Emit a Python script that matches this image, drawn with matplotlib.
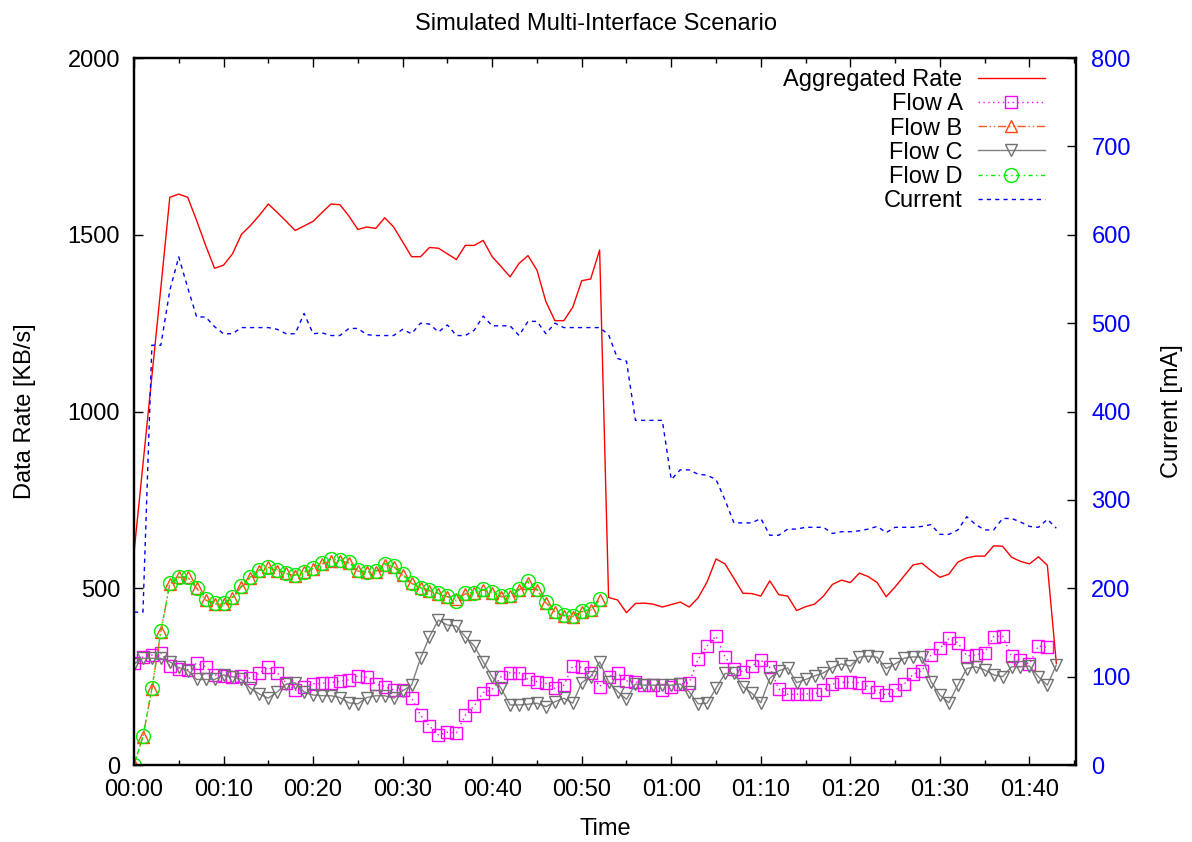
import matplotlib
matplotlib.use("Agg")
import matplotlib.pyplot as plt
from matplotlib.ticker import FuncFormatter, MultipleLocator
import numpy as np

plt.rcParams['font.family'] = ['Liberation Sans', 'DejaVu Sans']
plt.rcParams['font.size'] = 17

# one sample per minute
aggregated = [600, 850, 1100, 1350, 1606, 1615, 1606, 1540, 1470, 1405,
              1414, 1446, 1501, 1526, 1555, 1587, 1563, 1538, 1512, 1525,
              1538, 1563, 1587, 1585, 1553, 1515, 1522, 1518, 1548, 1522,
              1480, 1438, 1438, 1464, 1462, 1446, 1430, 1470, 1470, 1484,
              1438, 1410, 1381, 1419, 1441, 1400, 1311, 1257, 1257, 1295,
              1370, 1375, 1457, 474, 467, 431, 457, 458, 455, 447,
              454, 461, 447, 473, 518, 583, 569, 528, 486, 485,
              478, 521, 482, 478, 437, 448, 455, 478, 511, 523,
              516, 543, 533, 516, 476, 504, 535, 566, 571, 550,
              531, 540, 574, 586, 591, 591, 620, 619, 588, 576,
              569, 589, 565, 288]

flow_a = [288, 306, 311, 318, 280, 272, 270, 288, 278, 255,
          252, 249, 252, 245, 260, 276, 261, 232, 211, 222,
          230, 232, 233, 237, 241, 252, 248, 229, 222, 212,
          212, 190, 141, 110, 85, 93, 91, 141, 168, 205,
          214, 250, 261, 261, 242, 236, 231, 217, 226, 280,
          276, 261, 222, 250, 259, 238, 236, 226, 226, 212,
          222, 229, 233, 299, 337, 365, 306, 273, 264, 280,
          297, 276, 215, 200, 200, 201, 201, 212, 229, 234,
          234, 233, 222, 207, 198, 212, 229, 257, 267, 311,
          330, 358, 346, 309, 311, 318, 363, 365, 308, 297,
          286, 337, 333]

flow_b = [0, 80, 215, 377, 512, 531, 531, 500, 467, 455,
          455, 473, 504, 530, 550, 559, 550, 542, 535, 545,
          554, 569, 578, 578, 572, 549, 545, 547, 566, 561,
          537, 514, 500, 493, 484, 476, 470, 484, 486, 495,
          488, 476, 478, 495, 516, 495, 459, 434, 422, 420,
          434, 438, 467]

flow_c = [286, 302, 302, 302, 292, 276, 267, 242, 242, 242,
          255, 250, 242, 217, 201, 189, 207, 229, 233, 207,
          198, 196, 196, 191, 176, 173, 191, 196, 196, 189,
          210, 226, 302, 363, 410, 396, 393, 363, 337, 292,
          250, 217, 170, 170, 172, 175, 165, 179, 189, 175,
          233, 250, 292, 235, 208, 186, 229, 226, 226, 226,
          226, 229, 207, 173, 175, 217, 259, 259, 222, 203,
          176, 245, 267, 275, 233, 242, 252, 261, 276, 286,
          280, 305, 308, 305, 273, 286, 302, 306, 305, 236,
          198, 176, 226, 273, 278, 269, 255, 250, 278, 278,
          280, 250, 226, 283]

flow_d = [0, 82, 217, 378, 514, 533, 532, 502, 470, 458,
          457, 475, 506, 532, 552, 561, 553, 544, 537, 547,
          557, 572, 582, 580, 575, 551, 547, 549, 570, 563,
          539, 516, 502, 495, 486, 478, 465, 486, 488, 497,
          490, 478, 480, 497, 520, 497, 461, 436, 424, 422,
          436, 440, 469]

current = [173, 173, 475, 475, 537, 575, 540, 507, 507, 496,
           488, 488, 495, 495, 495, 495, 493, 488, 488, 511,
           488, 489, 486, 486, 494, 494, 487, 486, 486, 486,
           493, 488, 500, 499, 490, 498, 486, 486, 492, 508,
           497, 497, 497, 486, 502, 502, 488, 500, 495, 495,
           495, 495, 495, 487, 460, 457, 390, 390, 390, 390,
           323, 334, 334, 329, 328, 323, 300, 274, 274, 274,
           279, 260, 260, 267, 267, 269, 269, 269, 262, 264,
           264, 265, 267, 270, 263, 269, 269, 269, 270, 272,
           261, 261, 266, 281, 272, 266, 266, 279, 279, 275,
           270, 269, 278, 268]

t_agg = np.arange(len(aggregated))
t_a = np.arange(len(flow_a))
t_b = np.arange(len(flow_b))
t_c = np.arange(len(flow_c))
t_cur = np.arange(len(current))

fig = plt.figure(figsize=(11.92, 8.42), dpi=100)
ax = fig.add_axes([0.1124, 0.0914, 0.7903, 0.8397])
ax2 = ax.twinx()

l_agg, = ax.plot(t_agg, aggregated, color='#ff0000', lw=1, label='Aggregated Rate')
l_a, = ax.plot(t_a, flow_a, color='#ff00ff', lw=1, ls=(0, (1, 2.5)),
               marker='s', ms=8, mfc='none', mec='#ff00ff', mew=1,
               label='Flow A')
l_b, = ax.plot(t_b, flow_b, color='#ff5a1e', lw=1, ls=(0, (6, 2, 1, 2, 1, 2)),
               marker='^', ms=8.5, mfc='none', mec='#ff4a10', mew=1,
               label='Flow B')
l_c, = ax.plot(t_c, flow_c, color='#808080', lw=1,
               marker='v', ms=9, mfc='none', mec='#707070', mew=1,
               label='Flow C')
l_d, = ax.plot(t_b, flow_d, color='#00ee00', lw=1, ls=(0, (3, 2.5, 1, 2.5)),
               marker='o', ms=10, mfc='none', mec='#00ee00', mew=1,
               label='Flow D')
l_cur, = ax2.plot(t_cur, current, color='#0000ff', lw=1, ls=(0, (3, 3)),
                  label='Current')

ax.set_xlim(0, 105.2)
ax.set_ylim(0, 2000)
ax2.set_ylim(0, 800)

ax.xaxis.set_major_locator(MultipleLocator(10))
ax.xaxis.set_minor_locator(MultipleLocator(5))
ax.xaxis.set_major_formatter(FuncFormatter(lambda v, p: '%02d:%02d' % (int(v) // 60, int(v) % 60)))
ax.yaxis.set_major_locator(MultipleLocator(500))
ax2.yaxis.set_major_locator(MultipleLocator(100))

ax.tick_params(axis='x', which='major', direction='in', top=True, length=6.5, width=1, pad=10)
ax.tick_params(axis='x', which='minor', direction='in', top=True, length=3.5, width=1)
ax.tick_params(axis='y', direction='in', right=False, length=6.5, width=1, pad=10)
ax2.tick_params(axis='y', direction='in', length=6.5, width=1, pad=11, labelcolor='#0000ff')

for a in (ax, ax2):
    for s in a.spines.values():
        s.set_linewidth(1.6)

ax.set_xlabel('Time', labelpad=12)
ax.set_ylabel('Data Rate [KB/s]', labelpad=23)
ax2.set_ylabel('Current [mA]', labelpad=22)
fig.text(0.5, 0.972, 'Simulated Multi-Interface Scenario', ha='center', va='center')

leg = ax2.legend(handles=[l_agg, l_a, l_b, l_c, l_d, l_cur], loc='upper right',
                 bbox_to_anchor=(0.967, 0.984), frameon=False, markerfirst=False,
                 numpoints=1, handlelength=2.85, handletextpad=0.64,
                 labelspacing=0.09, borderaxespad=0, borderpad=0)

fig.savefig('out.png', dpi=100)
